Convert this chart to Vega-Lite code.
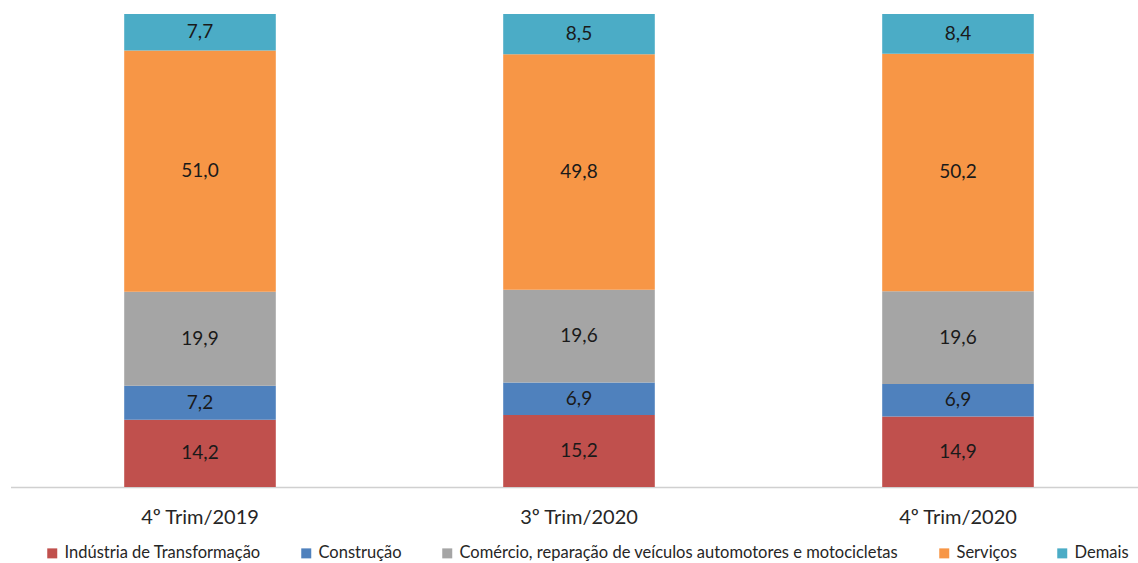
{
  "$schema": "https://vega.github.io/schema/vega-lite/v6.json",
  "width": 1138,
  "height": 563,
  "autosize": "none",
  "padding": 0,
  "background": "white",
  "config": {
    "view": {"stroke": null},
    "locale": {"number": {"decimal": ",", "thousands": ".", "grouping": [3], "currency": ["R$", ""]}},
    "font": "Lato"
  },
  "data": {
    "values": [
      {"periodo": "4º Trim/2019", "setor": "Indústria de Transformação", "k": 1, "valor": 14.2},
      {"periodo": "4º Trim/2019", "setor": "Construção", "k": 2, "valor": 7.2},
      {"periodo": "4º Trim/2019", "setor": "Comércio, reparação de veículos automotores e motocicletas", "k": 3, "valor": 19.9},
      {"periodo": "4º Trim/2019", "setor": "Serviços", "k": 4, "valor": 51.0},
      {"periodo": "4º Trim/2019", "setor": "Demais", "k": 5, "valor": 7.7},
      {"periodo": "3º Trim/2020", "setor": "Indústria de Transformação", "k": 1, "valor": 15.2},
      {"periodo": "3º Trim/2020", "setor": "Construção", "k": 2, "valor": 6.9},
      {"periodo": "3º Trim/2020", "setor": "Comércio, reparação de veículos automotores e motocicletas", "k": 3, "valor": 19.6},
      {"periodo": "3º Trim/2020", "setor": "Serviços", "k": 4, "valor": 49.8},
      {"periodo": "3º Trim/2020", "setor": "Demais", "k": 5, "valor": 8.5},
      {"periodo": "4º Trim/2020", "setor": "Indústria de Transformação", "k": 1, "valor": 14.9},
      {"periodo": "4º Trim/2020", "setor": "Construção", "k": 2, "valor": 6.9},
      {"periodo": "4º Trim/2020", "setor": "Comércio, reparação de veículos automotores e motocicletas", "k": 3, "valor": 19.6},
      {"periodo": "4º Trim/2020", "setor": "Serviços", "k": 4, "valor": 50.2},
      {"periodo": "4º Trim/2020", "setor": "Demais", "k": 5, "valor": 8.4}
    ]
  },
  "transform": [
    {"stack": "valor", "groupby": ["periodo"], "sort": [{"field": "k", "order": "ascending"}], "as": ["y0", "y1"]},
    {"calculate": "(datum.y0 + datum.y1) / 2", "as": "ymid"}
  ],
  "encoding": {
    "x": {
      "field": "periodo",
      "type": "nominal",
      "sort": ["4º Trim/2019", "3º Trim/2020", "4º Trim/2020"],
      "scale": {"range": [10.5, 1147.5], "paddingInner": 0.6, "paddingOuter": 0.3},
      "axis": {
        "title": null,
        "labelAngle": 0,
        "ticks": false,
        "offset": -76,
        "domainColor": "#d0d0d0",
        "domainWidth": 1.5,
        "labelFont": "Lato",
        "labelFontSize": 20,
        "labelColor": "#262626",
        "labelPadding": 20
      }
    }
  },
  "layer": [
    {
      "mark": {"type": "bar"},
      "encoding": {
        "y": {"field": "y0", "type": "quantitative", "scale": {"domain": [0, 100], "range": [487, 14]}, "axis": null},
        "y2": {"field": "y1"},
        "color": {
          "field": "setor",
          "type": "nominal",
          "sort": ["Indústria de Transformação", "Construção", "Comércio, reparação de veículos automotores e motocicletas", "Serviços", "Demais"],
          "scale": {
            "domain": ["Indústria de Transformação", "Construção", "Comércio, reparação de veículos automotores e motocicletas", "Serviços", "Demais"],
            "range": ["#C0504D", "#4F81BD", "#A5A5A5", "#F79646", "#4BACC6"]
          },
          "legend": {
            "title": null,
            "orient": "none",
            "direction": "horizontal",
            "legendX": 44,
            "legendY": 545,
            "symbolType": "square",
            "symbolSize": 100,
            "symbolStrokeWidth": 0,
            "labelFont": "Lato",
            "labelFontSize": 16.5,
            "labelColor": "#262626",
            "labelOffset": 4,
            "columnPadding": 37,
            "labelLimit": 700
          }
        }
      }
    },
    {
      "mark": {"type": "text", "font": "Lato", "fontSize": 19, "color": "#1a1a1a", "baseline": "middle"},
      "encoding": {
        "y": {"field": "ymid", "type": "quantitative", "scale": {"domain": [0, 100], "range": [487, 14]}},
        "text": {"field": "valor", "type": "quantitative", "format": ".1f"}
      }
    }
  ]
}
